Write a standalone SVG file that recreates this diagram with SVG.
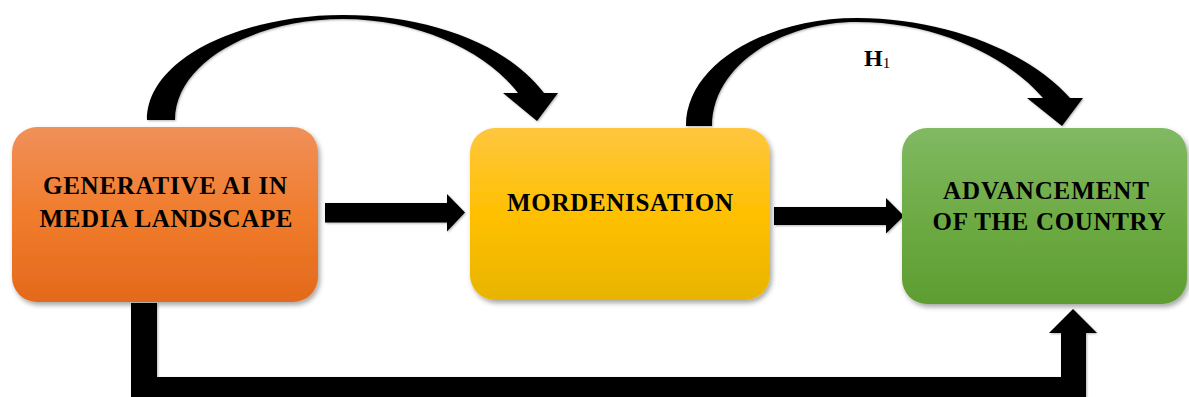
<svg xmlns="http://www.w3.org/2000/svg" width="1189" height="397" viewBox="0 0 1189 397">
  <style>
    .lbl { font-family: "Liberation Serif", "Times New Roman", serif; font-weight: bold; font-size: 25px; fill: #000; text-anchor: middle; }
    .arrow { fill: #000; }
  </style>
  <defs>
    <linearGradient id="gOrange" x1="0" y1="0" x2="0" y2="1">
      <stop offset="0" stop-color="#F0905A"/>
      <stop offset="0.5" stop-color="#F07C2C"/>
      <stop offset="1" stop-color="#E3691B"/>
    </linearGradient>
    <linearGradient id="gGold" x1="0" y1="0" x2="0" y2="1">
      <stop offset="0" stop-color="#FEC63F"/>
      <stop offset="0.5" stop-color="#FFC000"/>
      <stop offset="1" stop-color="#E8B400"/>
    </linearGradient>
    <linearGradient id="gGreen" x1="0" y1="0" x2="0" y2="1">
      <stop offset="0" stop-color="#80B962"/>
      <stop offset="0.5" stop-color="#6EAB45"/>
      <stop offset="1" stop-color="#5E9D31"/>
    </linearGradient>
    <filter id="shadow" x="-10%" y="-10%" width="125%" height="130%">
      <feDropShadow dx="2" dy="3" stdDeviation="2.5" flood-color="#000" flood-opacity="0.35"/>
    </filter>
    <filter id="ashadow" x="-5%" y="-5%" width="115%" height="115%">
      <feDropShadow dx="1" dy="1" stdDeviation="1" flood-color="#000" flood-opacity="0.3"/>
    </filter>
  </defs>

  <g id="connectors">
    <!-- curved arrow: Generative AI -> Mordenisation -->
    <path class="arrow" filter="url(#ashadow)" d="M147,120 C147,58 242,15 343,15 C430,15 508,45 544,93 L558,93 L537,121 L503,93 L518,93 C488,53 420,19 343,19 C255,19 175,62 175,120 Z"/>
    <!-- curved arrow: Mordenisation -> Advancement (H1) -->
    <path class="arrow" filter="url(#ashadow)" d="M686,126 C686,62 770,18 857,18 C945,18 1030,52 1070,98 L1083,98 L1062,126 L1027,98 L1043,98 C1010,59 940,22 857,22 C780,22 712,66 712,126 Z"/>
    <!-- straight arrow 1 -->
    <polygon class="arrow" filter="url(#ashadow)" points="325,203 447,203 447,194 465,212.5 447,231.5 447,222.5 325,222.5"/>
    <!-- straight arrow 2 -->
    <polygon class="arrow" filter="url(#ashadow)" points="774,207 886,207 886,198 904,216 886,233.5 886,225 774,225"/>
    <!-- bottom elbow arrow -->
    <polygon class="arrow" filter="url(#ashadow)" points="131,303 157,303 157,377 1061,377 1061,333 1049,333 1073,309 1097,333 1086,333 1086,402 131,402"/>
    <text x="864" y="66" style="font-family: 'Liberation Serif', 'Times New Roman', serif; font-weight: bold; font-size: 24px; fill: #000;">H<tspan font-size="15" font-weight="normal" dy="2">1</tspan></text>
  </g>

  <g id="node-generative-ai">
    <rect x="12" y="127" width="306" height="175" rx="25" ry="25" fill="url(#gOrange)" filter="url(#shadow)"/>
    <text class="lbl" x="165" y="194" font-size="25.5" textLength="244" lengthAdjust="spacing">GENERATIVE AI IN</text>
    <text class="lbl" x="166" y="227" font-size="25.5" textLength="253" lengthAdjust="spacing">MEDIA LANDSCAPE</text>
  </g>

  <g id="node-mordenisation">
    <rect x="470" y="128" width="300" height="172" rx="25" ry="25" fill="url(#gGold)" filter="url(#shadow)"/>
    <text class="lbl" x="620" y="211" textLength="226" lengthAdjust="spacing">MORDENISATION</text>
  </g>

  <g id="node-advancement">
    <rect x="902" y="128" width="285" height="176" rx="25" ry="25" fill="url(#gGreen)" filter="url(#shadow)"/>
    <text class="lbl" x="1046" y="199" textLength="206" lengthAdjust="spacing">ADVANCEMENT</text>
    <text class="lbl" x="1049" y="230" textLength="233" lengthAdjust="spacing">OF THE COUNTRY</text>
  </g>
</svg>
